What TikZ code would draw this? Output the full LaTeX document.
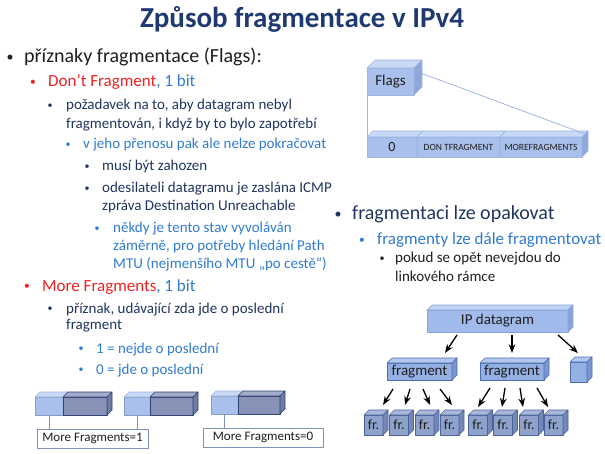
\documentclass[tikz,border=0pt]{standalone}
\usepackage{fontspec}
\setmainfont{Carlito}
\usetikzlibrary{calc,arrows.meta}
\definecolor{titleblue}{HTML}{1F3A70}
\definecolor{txblack}{HTML}{1E1E1E}
\definecolor{txnavy}{HTML}{1F355F}
\definecolor{txblue}{HTML}{2F7BD0}
\definecolor{txred}{HTML}{EE2222}
\definecolor{lbfront}{HTML}{A9C0EC}\definecolor{lbtop}{HTML}{C9D8F5}
\definecolor{lbside}{HTML}{8FA8DA}\definecolor{lbline}{HTML}{9FB6E2}
\definecolor{dkfront}{HTML}{8792B6}\definecolor{dktop}{HTML}{A3ADCB}
\definecolor{dkside}{HTML}{6F7BA3}\definecolor{dkline}{HTML}{2F4474}
\definecolor{ipfront}{HTML}{A0BBEB}\definecolor{iptop}{HTML}{C2D3F3}
\definecolor{ipside}{HTML}{88A3D8}\definecolor{ipline}{HTML}{8BA6DA}
\definecolor{fgfront}{HTML}{94B0E3}\definecolor{fgtop}{HTML}{B4C8EE}
\definecolor{fgside}{HTML}{7A96CF}\definecolor{fgline}{HTML}{4C6DB0}
\definecolor{frfront}{HTML}{8FA2CC}\definecolor{frtop}{HTML}{A9B8DA}
\definecolor{frside}{HTML}{7488B8}\definecolor{frline}{HTML}{4A6398}
% top and right faces of a box node: name, depth, colour prefix
\newcommand\faces[3]{%
	\filldraw[fill=#3top,draw=#3line,line width=0.6pt] (#1.north west) -- ++(#2,-#2) -- ($(#1.north east)+(#2,-#2)$) -- (#1.north east) -- cycle;
	\filldraw[fill=#3side,draw=#3line,line width=0.6pt] (#1.north east) -- ++(#2,-#2) -- ($(#1.south east)+(#2,-#2)$) -- (#1.south east) -- cycle;}
\begin{document}
\begin{tikzpicture}[x=1pt,y=-1pt,>=Stealth,line join=round,
	tx/.style={anchor=base west,inner sep=0pt},
	bul/.style={anchor=center,inner sep=0pt},
	la/.style={font=\fontsize{20}{24}\selectfont},
	lb/.style={font=\fontsize{17}{20}\selectfont},
	lc/.style={font=\fontsize{15}{18}\selectfont},
	ba/.style={font=\fontsize{14}{16}\selectfont},
	bb/.style={font=\fontsize{11.5}{14}\selectfont},
	bc/.style={font=\fontsize{10}{12}\selectfont},
	box/.style={inner sep=0pt,outer sep=0pt,line width=0.6pt,text=txblack},
	lbbox/.style={box,fill=lbfront,draw=lbline},
	dkbox/.style={box,fill=dkfront,draw=dkline},
	ipbox/.style={box,fill=ipfront,draw=ipline,font=\fontsize{15}{18}\selectfont},
	fgbox/.style={box,fill=fgfront,draw=fgline,font=\fontsize{15}{18}\selectfont},
	frbox/.style={box,fill=frfront,draw=frline,minimum width=19pt,minimum height=20pt,font=\fontsize{14}{16}\selectfont},
	label/.style={box,draw=lbline!80!black,fill=white,line width=0.8pt,minimum height=19pt,font=\fontsize{13}{16}\selectfont},
	arr/.style={->,line width=1.3pt,black}]
	\useasboundingbox (0,0) rectangle (605,454);
	\node[anchor=base,inner sep=0pt,text=titleblue,font=\fontsize{29}{34}\selectfont\bfseries] (title) at (302,28) {Způsob fragmentace v IPv4};
	% left column
	\node[bul,ba,text=txblack] (bflags) at (10,58) {•};
	\node[tx,la,text=txblack] (txflags) at (24,63) {příznaky fragmentace (Flags):};
	\node[bul,bb,text=txred] (bdf) at (33,83) {•};
	\node[tx,lb,text=txblue] (txdf) at (48,87) {{\color{txred}Don’t Fragment}, 1 bit};
	\node[bul,bc,text=txnavy] (breq) at (50,106.5) {•};
	\node[tx,lc,text=txnavy] (txreqa) at (66,110) {požadavek na to, aby datagram nebyl};
	\node[tx,lc,text=txnavy] (txreqb) at (66,129) {fragmentován, i když by to bylo zapotřebí};
	\node[bul,bc,text=txblue] (bcont) at (68,145.5) {•};
	\node[tx,lc,text=txblue] (txcont) at (83,149) {v jeho přenosu pak ale nelze pokračovat};
	\node[bul,bc,text=txnavy] (bdrop) at (87,167.5) {•};
	\node[tx,lc,text=txnavy] (txdrop) at (102,171) {musí být zahozen};
	\node[bul,bc,text=txnavy] (bicmp) at (87,189.5) {•};
	\node[tx,lc,text=txnavy] (txicmpa) at (102,193) {odesilateli datagramu je zaslána ICMP};
	\node[tx,lc,text=txnavy] (txicmpb) at (102,211) {zpráva Destination Unreachable};
	\node[bul,bc,text=txblue] (bpath) at (97,229.5) {•};
	\node[tx,lc,text=txblue] (txpatha) at (113,233) {někdy je tento stav vyvoláván};
	\node[tx,lc,text=txblue] (txpathb) at (113,251) {záměrně, pro potřeby hledání Path};
	\node[tx,lc,text=txblue] (txpathc) at (113,269) {MTU (nejmenšího MTU „po cestě“)};
	\node[bul,bb,text=txred] (bmf) at (27,287) {•};
	\node[tx,lb,text=txblue] (txmf) at (42,291) {{\color{txred}More Fragments}, 1 bit};
	\node[bul,bc,text=txnavy] (blast) at (50,309.5) {•};
	\node[tx,lc,text=txnavy] (txlasta) at (66,313) {příznak, udávající zda jde o poslední};
	\node[tx,lc,text=txnavy] (txlastb) at (66,330) {fragment};
	\node[bul,bc,text=txblue] (bone) at (81,349.5) {•};
	\node[tx,lc,text=txblue] (txone) at (96,353) {1 = nejde o poslední};
	\node[bul,bc,text=txblue] (bzero) at (81,370.5) {•};
	\node[tx,lc,text=txblue] (txzero) at (96,374) {0 = jde o poslední};
	% right column
	\node[bul,ba,text=txnavy] (brep) at (338,215) {•};
	\node[tx,la,text=txnavy] (txrep) at (352,220) {fragmentaci lze opakovat};
	\node[bul,bb,text=txblue] (brefr) at (362,241) {•};
	\node[tx,lb,text=txblue] (txrefr) at (377,245) {fragmenty lze dále fragmentovat};
	\node[bul,bc,text=txblack] (blink) at (382,259.5) {•};
	\node[tx,lc,text=txblack] (txlinka) at (395,263) {pokud se opět nevejdou do};
	\node[tx,lc,text=txblack] (txlinkb) at (395,282) {linkového rámce};
	% flags field
	\node[lbbox,minimum width=47pt,minimum height=27pt,font=\fontsize{15}{18}\selectfont] (fl) at (390.5,81.5) {Flags};
	\faces{fl}{8}{lb}
	\node[lbbox,minimum width=50pt,minimum height=20pt,font=\fontsize{14}{17}\selectfont] (zero) at (392,147) {0};
	\faces{zero}{6}{lb}
	\node[lbbox,minimum width=83pt,minimum height=20pt,font=\fontsize{9.5}{11}\selectfont] (dnf) at (458.5,147) {DON TFRAGMENT};
	\faces{dnf}{6}{lb}
	\node[lbbox,minimum width=82pt,minimum height=20pt,font=\fontsize{9.5}{11}\selectfont] (mrf) at (541,147) {MOREFRAGMENTS};
	\faces{mrf}{6}{lb}
	\draw[lbline,line width=0.8pt] (fl.south west) -- (zero.north west);
	\draw[lbline,line width=0.8pt] ($(fl.east)+(8,-8)$) -- ($(mrf.north east)+(3,-3)$);
	% more fragments examples
	\node[lbbox,draw=lbline!85!black,minimum width=28pt,minimum height=18pt] (ga) at (49,406) {};
	\faces{ga}{5}{lb}
	\node[dkbox,minimum width=44pt,minimum height=18pt] (gad) at (85,406) {};
	\faces{gad}{5}{dk}
	\node[lbbox,draw=lbline!85!black,minimum width=26pt,minimum height=18pt] (gb) at (137,406) {};
	\faces{gb}{5}{lb}
	\node[dkbox,minimum width=43pt,minimum height=18pt] (gbd) at (171.5,406) {};
	\faces{gbd}{5}{dk}
	\node[lbbox,draw=lbline!85!black,minimum width=27pt,minimum height=18pt] (gc) at (224.5,405) {};
	\faces{gc}{5}{lb}
	\node[dkbox,minimum width=42pt,minimum height=18pt] (gcd) at (259,405) {};
	\faces{gcd}{5}{dk}
	\node[label,minimum width=111pt] (mfone) at (92.5,438.5) {More Fragments=1};
	\node[label,minimum width=120pt] (mfzero) at (263,437.5) {More Fragments=0};
	\draw[lbline!80!black,line width=0.8pt] (ga.south) -- (ga.south |- mfone.north);
	\draw[lbline!80!black,line width=0.8pt] (gb.south) -- (gb.south |- mfone.north);
	\draw[lbline!80!black,line width=0.8pt] (gc.south) -- (gc.south |- mfzero.north);
	% fragmenting tree
	\node[ipbox,minimum width=141pt,minimum height=22pt] (ip) at (497.5,321) {IP datagram};
	\faces{ip}{5}{ip}
	\node[fgbox,minimum width=65pt,minimum height=17pt] (fa) at (419.5,371.5) {fragment};
	\faces{fa}{5}{fg}
	\node[fgbox,minimum width=64pt,minimum height=17pt] (fb) at (512,371.5) {fragment};
	\faces{fb}{5}{fg}
	\node[fgbox,minimum width=17pt,minimum height=20pt] (fc) at (578.5,372) {};
	\faces{fc}{5}{fg}
	\node[frbox] (fr1) at (373.5,425) {fr.}; \faces{fr1}{5}{fr}
	\node[frbox] (fr2) at (399,425) {fr.}; \faces{fr2}{5}{fr}
	\node[frbox] (fr3) at (424.5,425) {fr.}; \faces{fr3}{5}{fr}
	\node[frbox] (fr4) at (449.5,425) {fr.}; \faces{fr4}{5}{fr}
	\node[frbox] (fr5) at (478,425) {fr.}; \faces{fr5}{5}{fr}
	\node[frbox] (fr6) at (503,425) {fr.}; \faces{fr6}{5}{fr}
	\node[frbox] (fr7) at (529,425) {fr.}; \faces{fr7}{5}{fr}
	\node[frbox] (fr8) at (553.5,425) {fr.}; \faces{fr8}{5}{fr}
	\draw[arr] ($(ip.south)+(-40.5,3)$) -- ($(fa.north)+(25.5,-10)$);
	\draw[arr] ($(ip.south)+(14.5,3)$) -- ($(fb.north)+(0,-10)$);
	\draw[arr] ($(ip.south)+(60.5,3)$) -- ($(fc.north)+(-0.5,-9)$);
	\draw[arr] ($(fa.south)+(-26.5,9)$) -- ($(fr1.north)+(9.5,-10)$);
	\draw[arr] ($(fa.south)+(-9.5,9)$) -- ($(fr2.north)+(6,-10)$);
	\draw[arr] ($(fa.south)+(3.5,9)$) -- ($(fr3.north)+(5.5,-10)$);
	\draw[arr] ($(fa.south)+(20.5,9)$) -- ($(fr4.north)+(2.5,-10)$);
	\draw[arr] ($(fb.south)+(-22,8)$) -- ($(fr5.north)+(0,-8)$);
	\draw[arr] ($(fb.south)+(-7,8)$) -- ($(fr6.north)+(-1,-8)$);
	\draw[arr] ($(fb.south)+(8,8)$) -- ($(fr7.north)+(-6,-8)$);
	\draw[arr] ($(fb.south)+(25,8)$) -- ($(fr8.north)+(-5.5,-8)$);
\end{tikzpicture}
\end{document}
